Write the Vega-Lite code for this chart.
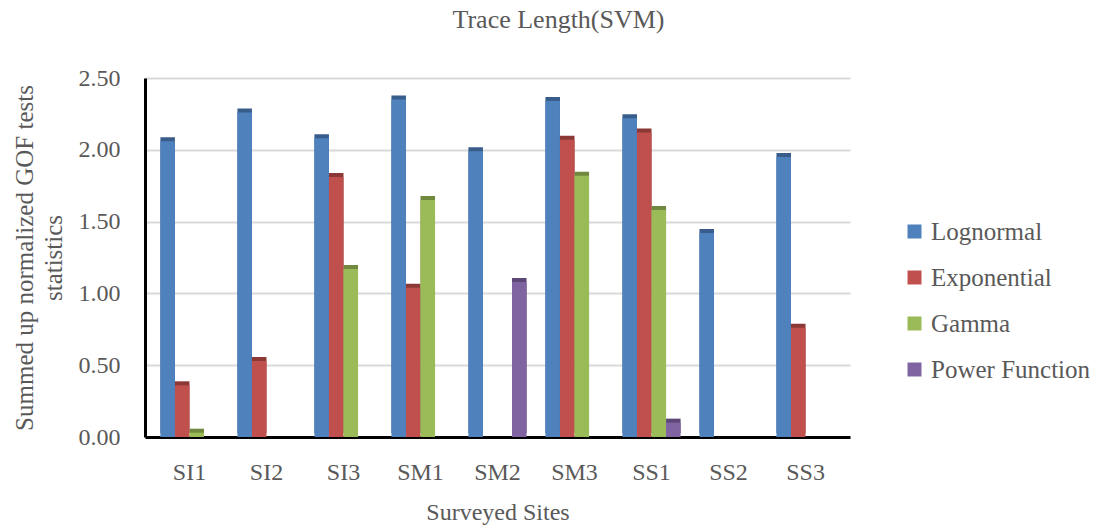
{
  "$schema": "https://vega.github.io/schema/vega-lite/v6.json",
  "width": 705,
  "height": 359,
  "autosize": {"type": "none"},
  "padding": {"left": 145, "top": 78, "right": 251, "bottom": 94},
  "background": "white",
  "title": {
    "text": "Trace Length(SVM)",
    "fontSize": 26,
    "fontWeight": "normal",
    "color": "#595959",
    "anchor": "middle",
    "offset": 33,
    "dx": 61
  },
  "data": {
    "values": [
      {"site": "SI1", "dist": "Lognormal", "value": 2.06},
      {"site": "SI1", "dist": "Exponential", "value": 0.36},
      {"site": "SI1", "dist": "Gamma", "value": 0.03},
      {"site": "SI1", "dist": "Power Function", "value": 0.0},
      {"site": "SI2", "dist": "Lognormal", "value": 2.26},
      {"site": "SI2", "dist": "Exponential", "value": 0.53},
      {"site": "SI2", "dist": "Gamma", "value": 0.0},
      {"site": "SI2", "dist": "Power Function", "value": 0.0},
      {"site": "SI3", "dist": "Lognormal", "value": 2.08},
      {"site": "SI3", "dist": "Exponential", "value": 1.81},
      {"site": "SI3", "dist": "Gamma", "value": 1.17},
      {"site": "SI3", "dist": "Power Function", "value": 0.0},
      {"site": "SM1", "dist": "Lognormal", "value": 2.35},
      {"site": "SM1", "dist": "Exponential", "value": 1.04},
      {"site": "SM1", "dist": "Gamma", "value": 1.65},
      {"site": "SM1", "dist": "Power Function", "value": 0.0},
      {"site": "SM2", "dist": "Lognormal", "value": 1.99},
      {"site": "SM2", "dist": "Exponential", "value": 0.0},
      {"site": "SM2", "dist": "Gamma", "value": 0.0},
      {"site": "SM2", "dist": "Power Function", "value": 1.08},
      {"site": "SM3", "dist": "Lognormal", "value": 2.34},
      {"site": "SM3", "dist": "Exponential", "value": 2.07},
      {"site": "SM3", "dist": "Gamma", "value": 1.82},
      {"site": "SM3", "dist": "Power Function", "value": 0.0},
      {"site": "SS1", "dist": "Lognormal", "value": 2.22},
      {"site": "SS1", "dist": "Exponential", "value": 2.12},
      {"site": "SS1", "dist": "Gamma", "value": 1.58},
      {"site": "SS1", "dist": "Power Function", "value": 0.1},
      {"site": "SS2", "dist": "Lognormal", "value": 1.42},
      {"site": "SS2", "dist": "Exponential", "value": 0.0},
      {"site": "SS2", "dist": "Gamma", "value": 0.0},
      {"site": "SS2", "dist": "Power Function", "value": 0.0},
      {"site": "SS3", "dist": "Lognormal", "value": 1.95},
      {"site": "SS3", "dist": "Exponential", "value": 0.76},
      {"site": "SS3", "dist": "Gamma", "value": 0.0},
      {"site": "SS3", "dist": "Power Function", "value": 0.0}
    ]
  },
  "encoding": {
    "x": {
      "field": "site",
      "type": "nominal",
      "sort": null,
      "scale": {"paddingInner": 0.245, "paddingOuter": 0.2},
      "axis": {
        "title": "Surveyed Sites",
        "titleFontSize": 24,
        "titlePadding": 16,
        "labelFontSize": 24,
        "labelAngle": 0,
        "labelPadding": 23,
        "ticks": false,
        "domainColor": "#000000",
        "domainWidth": 3,
        "grid": false
      }
    },
    "xOffset": {
      "field": "dist",
      "type": "nominal",
      "sort": ["Lognormal", "Exponential", "Gamma", "Power Function"],
      "scale": {"paddingInner": 0, "paddingOuter": 0}
    },
    "y": {
      "field": "value",
      "type": "quantitative",
      "scale": {"domain": [0, 2.5]},
      "axis": {
        "title": ["Summed up normalized GOF tests", "statistics"],
        "titleFontSize": 25,
        "titlePadding": 12,
        "titleLineHeight": 29,
        "labelFontSize": 24,
        "labelPadding": 25,
        "format": ".2f",
        "values": [0, 0.5, 1, 1.5, 2, 2.5],
        "ticks": false,
        "domainColor": "#000000",
        "domainWidth": 3,
        "gridColor": "#d9d9d9",
        "gridWidth": 2
      }
    }
  },
  "layer": [
    {
      "mark": {"type": "bar", "xOffset": 4, "yOffset": -4, "stroke": null},
      "encoding": {
        "color": {
          "field": "dist",
          "type": "nominal",
          "scale": {
            "domain": ["Lognormal", "Exponential", "Gamma", "Power Function"],
            "range": ["#385D8A", "#8C3836", "#71893F", "#5C4776"]
          },
          "legend": null
        }
      }
    },
    {
      "mark": {"type": "bar", "stroke": null},
      "encoding": {
        "color": {
          "field": "dist",
          "type": "nominal",
          "scale": {
            "domain": ["Lognormal", "Exponential", "Gamma", "Power Function"],
            "range": ["#4F81BD", "#C0504D", "#9BBB59", "#8064A2"]
          },
          "legend": {
            "title": null,
            "orient": "none",
            "legendX": 757,
            "legendY": 141,
            "symbolType": "square",
            "symbolSize": 196,
            "symbolStrokeWidth": 0,
            "labelFontSize": 25,
            "labelLimit": 400,
            "rowPadding": 20,
            "labelOffset": 4
          }
        }
      }
    }
  ],
  "resolve": {"scale": {"color": "independent"}},
  "config": {
    "font": "'Times New Roman', 'Liberation Serif', serif",
    "view": {"stroke": null},
    "title": {"font": "'Times New Roman', 'Liberation Serif', serif"},
    "axis": {
      "labelFont": "'Times New Roman', 'Liberation Serif', serif",
      "titleFont": "'Times New Roman', 'Liberation Serif', serif",
      "labelColor": "#595959",
      "titleColor": "#595959",
      "titleFontWeight": "normal"
    },
    "legend": {
      "labelFont": "'Times New Roman', 'Liberation Serif', serif",
      "labelColor": "#595959"
    }
  }
}
